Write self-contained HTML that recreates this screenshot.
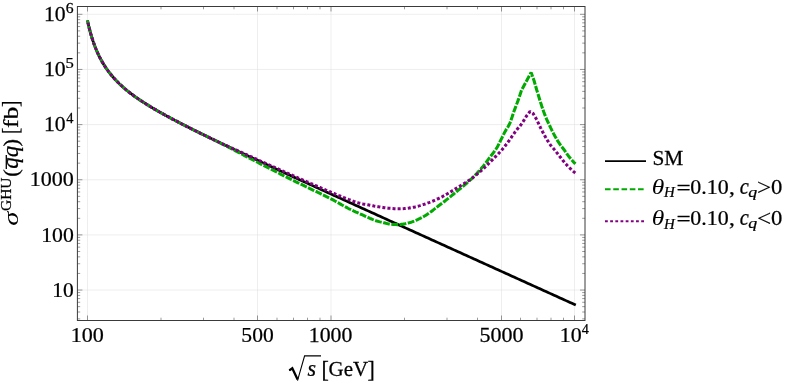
<!DOCTYPE html>
<html><head><meta charset="utf-8"><title>plot</title>
<style>html,body{margin:0;padding:0;background:#fff;}body{width:789px;height:383px;position:relative;overflow:hidden;font-family:"Liberation Serif",serif;}</style>
</head><body>
<svg width="789" height="383" viewBox="0 0 789 383" style="position:absolute;left:0;top:0">
<rect width="789" height="383" fill="#fff"/>
<path d="M77.4,290.05H585.0 M77.4,234.90H585.0 M77.4,179.75H585.0 M77.4,124.60H585.0 M77.4,69.45H585.0 M77.4,14.30H585.0 M87.50,6.5V320.5 M257.50,6.5V320.5 M331.00,6.5V320.5 M501.50,6.5V320.5 M574.50,6.5V320.5" stroke="#dcdcdc" stroke-width="0.5" fill="none"/>
<path d="M87.50,20.51 L88.00,22.83 L88.50,25.03 L89.00,27.13 L89.50,29.14 L90.00,31.06 L90.50,32.90 L91.00,34.66 L91.50,36.35 L92.00,37.98 L92.50,39.55 L93.00,41.06 L93.50,42.52 L94.00,43.93 L94.50,45.29 L95.00,46.61 L95.50,47.89 L96.00,49.12 L96.50,50.32 L97.00,51.48 L97.50,52.61 L98.00,53.71 L98.50,54.78 L99.00,55.82 L99.50,56.83 L100.00,57.81 L100.50,58.77 L101.00,59.71 L101.50,60.62 L102.00,61.51 L102.50,62.38 L103.00,63.23 L103.50,64.06 L104.00,64.88 L104.50,65.67 L105.00,66.45 L105.50,67.21 L106.00,67.96 L106.50,68.69 L107.00,69.41 L107.50,70.11 L108.00,70.80 L108.50,71.47 L109.00,72.14 L109.50,72.79 L110.00,73.43 L110.50,74.06 L111.00,74.68 L111.50,75.29 L112.00,75.89 L112.50,76.47 L113.00,77.05 L113.50,77.62 L114.00,78.19 L114.50,78.74 L115.00,79.28 L115.50,79.82 L116.00,80.35 L116.50,80.87 L117.00,81.39 L117.50,81.90 L118.00,82.40 L118.50,82.89 L119.00,83.38 L119.50,83.86 L120.00,84.34 L122.00,86.19 L124.00,87.96 L126.00,89.66 L128.00,91.29 L130.00,92.86 L132.00,94.38 L134.00,95.85 L136.00,97.28 L138.00,98.68 L140.00,100.03 L142.00,101.36 L144.00,102.66 L146.00,103.93 L148.00,105.17 L150.00,106.40 L152.00,107.60 L154.00,108.78 L156.00,109.95 L158.00,111.10 L160.00,112.24 L162.00,113.36 L164.00,114.47 L166.00,115.57 L168.00,116.66 L170.00,117.74 L172.00,118.81 L174.00,119.87 L176.00,120.92 L178.00,121.96 L180.00,123.00 L182.00,124.03 L184.00,125.05 L186.00,126.07 L188.00,127.08 L190.00,128.09 L192.00,129.09 L194.00,130.09 L196.00,131.08 L198.00,132.07 L200.00,133.05 L202.00,134.04 L204.00,135.01 L206.00,135.99 L208.00,136.96 L210.00,137.93 L212.00,138.89 L214.00,139.85 L216.00,140.81 L218.00,141.77 L220.00,142.73 L222.00,143.68 L224.00,144.63 L226.00,145.58 L228.00,146.53 L230.00,147.47 L232.00,148.42 L234.00,149.36 L236.00,150.30 L238.00,151.24 L240.00,152.18 L242.00,153.12 L244.00,154.05 L246.00,154.99 L248.00,155.92 L250.00,156.85 L252.00,157.78 L254.00,158.71 L256.00,159.64 L258.00,160.57 L260.00,161.49 L262.00,162.42 L264.00,163.35 L266.00,164.27 L268.00,165.19 L270.00,166.12 L272.00,167.04 L274.00,167.96 L276.00,168.88 L278.00,169.80 L280.00,170.72 L282.00,171.64 L284.00,172.56 L286.00,173.48 L288.00,174.40 L290.00,175.32 L292.00,176.23 L294.00,177.15 L296.00,178.07 L298.00,178.98 L300.00,179.90 L302.00,180.81 L304.00,181.73 L306.00,182.64 L308.00,183.55 L310.00,184.47 L312.00,185.38 L314.00,186.30 L316.00,187.21 L318.00,188.12 L320.00,189.03 L322.00,189.94 L324.00,190.86 L326.00,191.77 L328.00,192.68 L330.00,193.59 L332.00,194.50 L334.00,195.41 L336.00,196.32 L338.00,197.23 L340.00,198.14 L342.00,199.05 L344.00,199.96 L346.00,200.87 L348.00,201.78 L350.00,202.69 L352.00,203.60 L354.00,204.51 L356.00,205.42 L358.00,206.33 L360.00,207.24 L362.00,208.15 L364.00,209.06 L366.00,209.97 L368.00,210.87 L370.00,211.78 L372.00,212.69 L374.00,213.60 L376.00,214.51 L378.00,215.41 L380.00,216.32 L382.00,217.23 L384.00,218.14 L386.00,219.05 L388.00,219.95 L390.00,220.86 L392.00,221.77 L394.00,222.68 L396.00,223.58 L398.00,224.49 L400.00,225.40 L402.00,226.31 L404.00,227.21 L406.00,228.12 L408.00,229.03 L410.00,229.93 L412.00,230.84 L414.00,231.75 L416.00,232.66 L418.00,233.56 L420.00,234.47 L422.00,235.38 L424.00,236.28 L426.00,237.19 L428.00,238.10 L430.00,239.00 L432.00,239.91 L434.00,240.82 L436.00,241.72 L438.00,242.63 L440.00,243.54 L442.00,244.44 L444.00,245.35 L446.00,246.26 L448.00,247.16 L450.00,248.07 L452.00,248.98 L454.00,249.88 L456.00,250.79 L458.00,251.70 L460.00,252.60 L462.00,253.51 L464.00,254.41 L466.00,255.32 L468.00,256.23 L470.00,257.13 L472.00,258.04 L474.00,258.95 L476.00,259.85 L478.00,260.76 L480.00,261.66 L482.00,262.57 L484.00,263.48 L486.00,264.38 L488.00,265.29 L490.00,266.20 L492.00,267.10 L494.00,268.01 L496.00,268.91 L498.00,269.82 L500.00,270.73 L502.00,271.63 L504.00,272.54 L506.00,273.45 L508.00,274.35 L510.00,275.26 L512.00,276.16 L514.00,277.07 L516.00,277.98 L518.00,278.88 L520.00,279.79 L522.00,280.69 L524.00,281.60 L526.00,282.51 L528.00,283.41 L530.00,284.32 L532.00,285.22 L534.00,286.13 L536.00,287.04 L538.00,287.94 L540.00,288.85 L542.00,289.75 L544.00,290.66 L546.00,291.57 L548.00,292.47 L550.00,293.38 L552.00,294.29 L554.00,295.19 L556.00,296.10 L558.00,297.00 L560.00,297.91 L562.00,298.82 L564.00,299.72 L566.00,300.63 L568.00,301.53 L570.00,302.44 L572.00,303.35 L574.00,304.25 L575.80,305.07" stroke="#000" stroke-width="2.7" fill="none" stroke-linejoin="round"/>
<path d="M87.50,20.51 L88.50,25.03 L89.50,29.14 L90.50,32.90 L91.50,36.35 L92.50,39.55 L93.50,42.52 L94.50,45.29 L95.50,47.89 L96.50,50.32 L97.50,52.61 L98.50,54.78 L99.50,56.83 L100.50,58.77 L101.50,60.62 L102.50,62.38 L103.50,64.06 L104.50,65.67 L105.50,67.21 L106.50,68.69 L107.50,70.11 L108.50,71.47 L109.50,72.79 L110.50,74.06 L111.50,75.29 L112.50,76.47 L113.50,77.62 L114.50,78.74 L115.50,79.82 L116.50,80.87 L117.50,81.90 L118.50,82.89 L119.50,83.86 L120.50,84.81 L121.50,85.74 L122.50,86.64 L123.50,87.52 L124.50,88.39 L125.50,89.24 L126.50,90.07 L127.50,90.88 L128.50,91.68 L129.50,92.47 L130.50,93.24 L131.50,94.00 L132.50,94.75 L133.50,95.49 L134.50,96.21 L135.50,96.93 L136.50,97.64 L137.50,98.33 L138.50,99.02 L139.50,99.70 L140.50,100.37 L141.50,101.03 L142.50,101.69 L143.50,102.33 L144.50,102.98 L145.50,103.61 L146.50,104.24 L147.50,104.86 L148.50,105.48 L149.50,106.09 L150.50,106.70 L151.50,107.30 L152.50,107.90 L153.50,108.49 L154.50,109.08 L155.50,109.66 L156.50,110.24 L157.50,110.82 L158.50,111.39 L159.50,111.96 L160.50,112.52 L161.50,113.08 L162.50,113.64 L163.50,114.20 L164.50,114.75 L165.50,115.30 L166.50,115.85 L167.50,116.39 L168.50,116.93 L169.50,117.47 L170.50,118.01 L171.50,118.54 L172.50,119.07 L173.50,119.60 L174.50,120.13 L175.00,120.40 L176.00,120.92 L177.00,121.44 L178.00,121.96 L179.00,122.48 L180.00,123.00 L181.00,123.52 L182.00,124.03 L183.00,124.54 L184.00,125.05 L185.00,125.56 L186.00,126.07 L187.00,126.58 L188.00,127.08 L189.00,127.59 L190.00,128.09 L191.00,128.59 L192.00,129.09 L193.00,129.59 L194.00,130.09 L195.00,130.59 L196.00,131.08 L197.00,131.58 L198.00,132.07 L199.00,132.56 L200.00,133.05 L201.00,133.55 L202.00,134.04 L203.00,134.52 L204.00,135.01 L205.00,135.50 L206.00,135.99 L207.00,136.47 L208.00,136.96 L209.00,137.44 L210.00,137.93 L211.00,138.41 L212.00,138.89 L213.00,139.37 L214.00,139.85 L215.00,140.33 L216.00,140.82 L217.00,141.30 L218.00,141.79 L219.00,142.29 L220.00,142.79 L221.00,143.29 L222.00,143.79 L223.00,144.30 L224.00,144.81 L225.00,145.32 L226.00,145.84 L227.00,146.35 L228.00,146.87 L229.00,147.39 L230.00,147.92 L231.00,148.44 L232.00,148.96 L233.00,149.49 L234.00,150.02 L235.00,150.55 L236.00,151.07 L237.00,151.60 L238.00,152.13 L239.00,152.66 L240.00,153.19 L241.00,153.71 L242.00,154.24 L243.00,154.77 L244.00,155.29 L245.00,155.81 L246.00,156.33 L247.00,156.85 L248.00,157.37 L249.00,157.89 L250.00,158.40 L251.00,158.91 L252.00,159.42 L253.00,159.94 L254.00,160.45 L255.00,160.96 L256.00,161.48 L257.00,161.99 L258.00,162.50 L259.00,163.02 L260.00,163.53 L261.00,164.04 L262.00,164.56 L263.00,165.07 L264.00,165.58 L265.00,166.10 L266.00,166.61 L267.00,167.12 L268.00,167.64 L269.00,168.15 L270.00,168.66 L271.00,169.17 L272.00,169.69 L273.00,170.20 L274.00,170.71 L275.00,171.22 L276.00,171.73 L277.00,172.24 L278.00,172.75 L279.00,173.26 L280.00,173.77 L281.00,174.27 L282.00,174.78 L283.00,175.28 L284.00,175.79 L285.00,176.29 L286.00,176.80 L287.00,177.30 L288.00,177.80 L289.00,178.30 L290.00,178.80 L291.00,179.30 L292.00,179.80 L293.00,180.30 L294.00,180.79 L295.00,181.28 L296.00,181.78 L297.00,182.27 L298.00,182.76 L299.00,183.25 L300.00,183.74 L301.00,184.22 L302.00,184.71 L303.00,185.20 L304.00,185.68 L305.00,186.17 L306.00,186.65 L307.00,187.13 L308.00,187.62 L309.00,188.10 L310.00,188.59 L311.00,189.07 L312.00,189.55 L313.00,190.04 L314.00,190.52 L315.00,191.01 L316.00,191.49 L317.00,191.98 L318.00,192.47 L319.00,192.95 L320.00,193.44 L321.00,193.93 L322.00,194.42 L323.00,194.91 L324.00,195.41 L325.00,195.90 L326.00,196.40 L327.00,196.89 L328.00,197.39 L329.00,197.89 L330.00,198.40 L331.00,198.90 L332.00,199.41 L333.00,199.94 L334.00,200.47 L335.00,201.02 L336.00,201.57 L337.00,202.13 L338.00,202.69 L339.00,203.26 L340.00,203.83 L341.00,204.40 L342.00,204.97 L343.00,205.53 L344.00,206.09 L345.00,206.64 L346.00,207.19 L347.00,207.72 L348.00,208.25 L349.00,208.76 L350.00,209.25 L351.00,209.74 L352.00,210.20 L353.00,210.65 L354.00,211.11 L355.00,211.56 L356.00,212.02 L357.00,212.47 L358.00,212.92 L359.00,213.37 L360.00,213.82 L361.00,214.27 L362.00,214.72 L363.00,215.17 L364.00,215.62 L365.00,216.07 L366.00,216.52 L367.00,216.97 L368.00,217.42 L369.00,217.86 L370.00,218.31 L371.00,218.75 L372.00,219.20 L373.00,219.63 L374.00,220.02 L375.00,220.39 L376.00,220.73 L377.00,221.04 L378.00,221.34 L379.00,221.61 L380.00,221.88 L381.00,222.13 L382.00,222.37 L383.00,222.61 L384.00,222.84 L385.00,223.08 L386.00,223.32 L387.00,223.53 L388.00,223.73 L389.00,223.90 L390.00,224.06 L391.00,224.19 L392.00,224.31 L393.00,224.40 L394.00,224.49 L395.00,224.55 L396.00,224.60 L397.00,224.62 L398.00,224.61 L399.00,224.56 L400.00,224.48 L401.00,224.37 L402.00,224.24 L403.00,224.08 L404.00,223.90 L405.00,223.70 L406.00,223.49 L407.00,223.26 L408.00,223.02 L409.00,222.77 L410.00,222.50 L411.00,222.19 L412.00,221.86 L413.00,221.51 L414.00,221.13 L415.00,220.72 L416.00,220.30 L417.00,219.85 L418.00,219.39 L419.00,218.91 L420.00,218.42 L421.00,217.91 L422.00,217.39 L423.00,216.85 L424.00,216.30 L425.00,215.71 L426.00,215.10 L427.00,214.45 L428.00,213.78 L429.00,213.09 L430.00,212.38 L431.00,211.66 L432.00,210.91 L433.00,210.16 L434.00,209.40 L435.00,208.63 L436.00,207.86 L437.00,207.09 L438.00,206.32 L439.00,205.56 L440.00,204.80 L441.00,204.04 L442.00,203.28 L443.00,202.51 L444.00,201.73 L445.00,200.95 L446.00,200.16 L447.00,199.37 L448.00,198.57 L449.00,197.77 L450.00,196.96 L451.00,196.15 L452.00,195.33 L453.00,194.52 L454.00,193.70 L455.00,192.88 L456.00,192.05 L457.00,191.23 L458.00,190.42 L459.00,189.60 L460.00,188.79 L461.00,187.98 L462.00,187.16 L463.00,186.33 L464.00,185.50 L465.00,184.66 L466.00,183.80 L467.00,182.93 L468.00,182.05 L469.00,181.15 L470.00,180.23 L471.00,179.29 L472.00,178.32 L473.00,177.34 L474.00,176.34 L475.00,175.31 L476.00,174.27 L477.00,173.20 L478.00,172.12 L479.00,171.01 L480.00,169.88 L481.00,168.73 L482.00,167.56 L483.00,166.35 L484.00,165.10 L485.00,163.81 L486.00,162.49 L487.00,161.15 L488.00,159.80 L489.00,158.45 L490.00,157.10 L491.00,155.79 L492.00,154.51 L493.00,153.22 L494.00,151.90 L495.00,150.52 L496.00,149.05 L497.00,147.44 L498.00,145.64 L499.00,143.71 L500.00,141.70 L501.00,139.69 L502.00,137.70 L503.00,135.65 L504.00,133.60 L505.00,131.64 L506.00,129.88 L507.00,128.36 L508.00,126.85 L509.00,125.10 L510.00,122.88 L511.00,120.21 L512.00,117.28 L513.00,114.26 L514.00,111.33 L515.00,108.61 L516.00,105.97 L517.00,103.33 L518.00,100.62 L519.00,97.79 L520.00,94.85 L521.00,91.84 L521.50,90.30 L531.10,72.40 L534.00,80.50 L536.60,89.50 L540.70,102.80 L541.70,105.90 L542.70,108.86 L543.70,111.68 L544.70,114.36 L545.70,116.91 L546.70,119.30 L547.70,121.52 L548.70,123.65 L549.70,125.75 L550.70,127.85 L551.70,129.92 L552.70,131.93 L553.70,133.87 L554.70,135.72 L555.70,137.49 L556.70,139.20 L557.70,140.86 L558.70,142.45 L559.70,143.98 L560.70,145.44 L561.70,146.80 L562.70,148.02 L563.70,149.27 L564.70,150.64 L565.70,152.09 L566.70,153.53 L567.70,154.90 L568.70,156.23 L569.70,157.51 L570.70,158.72 L571.70,159.90 L572.70,161.04 L573.70,162.14 L574.70,163.19 L575.40,163.90" stroke="#00aa00" stroke-width="3.05" fill="none" stroke-dasharray="6.8 1.5" stroke-dashoffset="2.56" stroke-linejoin="bevel"/>
<path d="M87.50,20.51 L88.50,25.03 L89.50,29.14 L90.50,32.90 L91.50,36.35 L92.50,39.55 L93.50,42.52 L94.50,45.29 L95.50,47.89 L96.50,50.32 L97.50,52.61 L98.50,54.78 L99.50,56.83 L100.50,58.77 L101.50,60.62 L102.50,62.38 L103.50,64.06 L104.50,65.67 L105.50,67.21 L106.50,68.69 L107.50,70.11 L108.50,71.47 L109.50,72.79 L110.50,74.06 L111.50,75.29 L112.50,76.47 L113.50,77.62 L114.50,78.74 L115.50,79.82 L116.50,80.87 L117.50,81.90 L118.50,82.89 L119.50,83.86 L120.50,84.81 L121.50,85.74 L122.50,86.64 L123.50,87.52 L124.50,88.39 L125.50,89.24 L126.50,90.07 L127.50,90.88 L128.50,91.68 L129.50,92.47 L130.50,93.24 L131.50,94.00 L132.50,94.75 L133.50,95.49 L134.50,96.21 L135.50,96.93 L136.50,97.64 L137.50,98.33 L138.50,99.02 L139.50,99.70 L140.50,100.37 L141.50,101.03 L142.50,101.69 L143.50,102.33 L144.50,102.98 L145.50,103.61 L146.50,104.24 L147.50,104.86 L148.50,105.48 L149.50,106.09 L150.50,106.70 L151.50,107.30 L152.50,107.90 L153.50,108.49 L154.50,109.08 L155.50,109.66 L156.50,110.24 L157.50,110.82 L158.50,111.39 L159.50,111.96 L160.50,112.52 L161.50,113.08 L162.50,113.64 L163.50,114.20 L164.50,114.75 L165.50,115.30 L166.50,115.85 L167.50,116.39 L168.50,116.93 L169.50,117.47 L170.50,118.01 L171.50,118.54 L172.50,119.07 L173.50,119.60 L174.50,120.13 L175.00,120.40 L176.00,120.92 L177.00,121.44 L178.00,121.96 L179.00,122.48 L180.00,123.00 L181.00,123.52 L182.00,124.03 L183.00,124.54 L184.00,125.05 L185.00,125.56 L186.00,126.07 L187.00,126.58 L188.00,127.08 L189.00,127.59 L190.00,128.09 L191.00,128.59 L192.00,129.09 L193.00,129.59 L194.00,130.09 L195.00,130.59 L196.00,131.08 L197.00,131.58 L198.00,132.07 L199.00,132.56 L200.00,133.05 L201.00,133.55 L202.00,134.04 L203.00,134.52 L204.00,135.01 L205.00,135.50 L206.00,135.99 L207.00,136.47 L208.00,136.96 L209.00,137.44 L210.00,137.93 L211.00,138.41 L212.00,138.89 L213.00,139.37 L214.00,139.85 L215.00,140.33 L216.00,140.81 L217.00,141.29 L218.00,141.76 L219.00,142.24 L220.00,142.71 L221.00,143.17 L222.00,143.64 L223.00,144.10 L224.00,144.57 L225.00,145.03 L226.00,145.48 L227.00,145.94 L228.00,146.40 L229.00,146.85 L230.00,147.31 L231.00,147.76 L232.00,148.21 L233.00,148.66 L234.00,149.11 L235.00,149.56 L236.00,150.01 L237.00,150.46 L238.00,150.91 L239.00,151.36 L240.00,151.81 L241.00,152.26 L242.00,152.70 L243.00,153.15 L244.00,153.60 L245.00,154.05 L246.00,154.50 L247.00,154.95 L248.00,155.40 L249.00,155.85 L250.00,156.30 L251.00,156.75 L252.00,157.20 L253.00,157.66 L254.00,158.11 L255.00,158.56 L256.00,159.01 L257.00,159.47 L258.00,159.92 L259.00,160.37 L260.00,160.82 L261.00,161.27 L262.00,161.73 L263.00,162.18 L264.00,162.63 L265.00,163.08 L266.00,163.53 L267.00,163.99 L268.00,164.44 L269.00,164.89 L270.00,165.34 L271.00,165.79 L272.00,166.24 L273.00,166.69 L274.00,167.14 L275.00,167.59 L276.00,168.04 L277.00,168.49 L278.00,168.94 L279.00,169.39 L280.00,169.84 L281.00,170.28 L282.00,170.73 L283.00,171.18 L284.00,171.63 L285.00,172.07 L286.00,172.52 L287.00,172.97 L288.00,173.41 L289.00,173.86 L290.00,174.30 L291.00,174.75 L292.00,175.19 L293.00,175.63 L294.00,176.08 L295.00,176.52 L296.00,176.96 L297.00,177.40 L298.00,177.85 L299.00,178.29 L300.00,178.73 L301.00,179.17 L302.00,179.61 L303.00,180.05 L304.00,180.49 L305.00,180.93 L306.00,181.37 L307.00,181.81 L308.00,182.25 L309.00,182.69 L310.00,183.13 L311.00,183.57 L312.00,184.00 L313.00,184.44 L314.00,184.88 L315.00,185.31 L316.00,185.75 L317.00,186.18 L318.00,186.62 L319.00,187.05 L320.00,187.48 L321.00,187.92 L322.00,188.35 L323.00,188.78 L324.00,189.21 L325.00,189.64 L326.00,190.07 L327.00,190.49 L328.00,190.92 L329.00,191.35 L330.00,191.77 L331.00,192.20 L332.00,192.62 L333.00,193.05 L334.00,193.47 L335.00,193.89 L336.00,194.31 L337.00,194.73 L338.00,195.14 L339.00,195.56 L340.00,195.97 L341.00,196.38 L342.00,196.79 L343.00,197.19 L344.00,197.60 L345.00,198.00 L346.00,198.39 L347.00,198.79 L348.00,199.18 L349.00,199.57 L350.00,199.95 L351.00,200.33 L352.00,200.71 L353.00,201.08 L354.00,201.45 L355.00,201.81 L356.00,202.15 L357.00,202.46 L358.00,202.75 L359.00,203.02 L360.00,203.27 L361.00,203.51 L362.00,203.73 L363.00,203.94 L364.00,204.14 L365.00,204.33 L366.00,204.51 L367.00,204.69 L368.00,204.87 L369.00,205.05 L370.00,205.23 L371.00,205.41 L372.00,205.60 L373.00,205.79 L374.00,205.98 L375.00,206.16 L376.00,206.34 L377.00,206.52 L378.00,206.69 L379.00,206.86 L380.00,207.02 L381.00,207.18 L382.00,207.33 L383.00,207.47 L384.00,207.62 L385.00,207.75 L386.00,207.88 L387.00,208.00 L388.00,208.12 L389.00,208.23 L390.00,208.33 L391.00,208.43 L392.00,208.52 L393.00,208.59 L394.00,208.66 L395.00,208.71 L396.00,208.74 L397.00,208.77 L398.00,208.78 L399.00,208.78 L400.00,208.77 L401.00,208.74 L402.00,208.71 L403.00,208.66 L404.00,208.59 L405.00,208.51 L406.00,208.41 L407.00,208.30 L408.00,208.17 L409.00,208.03 L410.00,207.87 L411.00,207.71 L412.00,207.53 L413.00,207.34 L414.00,207.14 L415.00,206.92 L416.00,206.68 L417.00,206.43 L418.00,206.16 L419.00,205.88 L420.00,205.59 L421.00,205.29 L422.00,204.98 L423.00,204.66 L424.00,204.33 L425.00,204.00 L426.00,203.66 L427.00,203.31 L428.00,202.94 L429.00,202.57 L430.00,202.19 L431.00,201.79 L432.00,201.39 L433.00,200.98 L434.00,200.55 L435.00,200.12 L436.00,199.68 L437.00,199.22 L438.00,198.76 L439.00,198.28 L440.00,197.80 L441.00,197.30 L442.00,196.79 L443.00,196.25 L444.00,195.71 L445.00,195.15 L446.00,194.57 L447.00,193.99 L448.00,193.40 L449.00,192.80 L450.00,192.19 L451.00,191.58 L452.00,190.97 L453.00,190.36 L454.00,189.74 L455.00,189.13 L456.00,188.52 L457.00,187.91 L458.00,187.30 L459.00,186.70 L460.00,186.09 L461.00,185.48 L462.00,184.87 L463.00,184.25 L464.00,183.63 L465.00,182.99 L466.00,182.35 L467.00,181.69 L468.00,181.02 L469.00,180.34 L470.00,179.64 L471.00,178.92 L472.00,178.18 L473.00,177.42 L474.00,176.65 L475.00,175.85 L476.00,175.04 L477.00,174.21 L478.00,173.36 L479.00,172.51 L480.00,171.64 L481.00,170.76 L482.00,169.87 L483.00,168.97 L484.00,168.05 L485.00,167.10 L486.00,166.15 L487.00,165.18 L488.00,164.19 L489.00,163.20 L490.00,162.20 L491.00,161.20 L492.00,160.20 L493.00,159.20 L494.00,158.20 L495.00,157.20 L496.00,156.20 L497.00,155.18 L498.00,154.14 L499.00,153.08 L500.00,152.00 L501.00,150.89 L502.00,149.73 L503.00,148.54 L504.00,147.31 L505.00,146.04 L506.00,144.75 L507.00,143.44 L508.00,142.10 L509.00,140.76 L510.00,139.36 L511.00,137.91 L512.00,136.44 L513.00,134.97 L514.00,133.52 L515.00,132.11 L516.00,130.77 L517.00,129.52 L518.00,128.34 L519.00,127.17 L520.00,125.97 L521.00,124.68 L522.00,123.26 L523.00,121.76 L524.00,120.19 L525.00,118.54 L526.00,116.83 L526.30,116.30 L530.00,111.50 L533.00,113.40 L536.00,118.40 L538.60,123.60 L539.60,125.73 L540.60,127.81 L541.60,129.82 L542.60,131.77 L543.60,133.66 L544.60,135.48 L545.60,137.25 L546.60,138.97 L547.60,140.65 L548.60,142.26 L549.60,143.78 L550.60,145.17 L551.60,146.39 L552.60,147.49 L553.60,148.64 L554.60,149.86 L555.60,151.11 L556.60,152.39 L557.60,153.66 L558.60,154.94 L559.60,156.20 L560.60,157.46 L561.60,158.74 L562.60,160.01 L563.60,161.27 L564.60,162.49 L565.60,163.66 L566.60,164.77 L567.60,165.83 L568.60,166.86 L569.60,167.86 L570.60,168.83 L571.60,169.77 L572.60,170.68 L573.60,171.56 L574.60,172.42 L575.30,173.00" stroke="#800080" stroke-width="3.05" fill="none" stroke-dasharray="3.0 2.1" stroke-dashoffset="2.79" stroke-linejoin="bevel"/>
<path d="M77.4,318.89h2.8 M585.0,318.89h-2.8 M77.4,312.00h2.8 M585.0,312.00h-2.8 M77.4,306.65h2.8 M585.0,306.65h-2.8 M77.4,302.28h2.8 M585.0,302.28h-2.8 M77.4,298.59h2.8 M585.0,298.59h-2.8 M77.4,295.39h2.8 M585.0,295.39h-2.8 M77.4,292.57h2.8 M585.0,292.57h-2.8 M77.4,290.05h5.0 M585.0,290.05h-5.0 M77.4,273.45h2.8 M585.0,273.45h-2.8 M77.4,263.74h2.8 M585.0,263.74h-2.8 M77.4,256.85h2.8 M585.0,256.85h-2.8 M77.4,251.50h2.8 M585.0,251.50h-2.8 M77.4,247.13h2.8 M585.0,247.13h-2.8 M77.4,243.44h2.8 M585.0,243.44h-2.8 M77.4,240.24h2.8 M585.0,240.24h-2.8 M77.4,237.42h2.8 M585.0,237.42h-2.8 M77.4,234.90h5.0 M585.0,234.90h-5.0 M77.4,218.30h2.8 M585.0,218.30h-2.8 M77.4,208.59h2.8 M585.0,208.59h-2.8 M77.4,201.70h2.8 M585.0,201.70h-2.8 M77.4,196.35h2.8 M585.0,196.35h-2.8 M77.4,191.98h2.8 M585.0,191.98h-2.8 M77.4,188.29h2.8 M585.0,188.29h-2.8 M77.4,185.09h2.8 M585.0,185.09h-2.8 M77.4,182.27h2.8 M585.0,182.27h-2.8 M77.4,179.75h5.0 M585.0,179.75h-5.0 M77.4,163.15h2.8 M585.0,163.15h-2.8 M77.4,153.44h2.8 M585.0,153.44h-2.8 M77.4,146.55h2.8 M585.0,146.55h-2.8 M77.4,141.20h2.8 M585.0,141.20h-2.8 M77.4,136.83h2.8 M585.0,136.83h-2.8 M77.4,133.14h2.8 M585.0,133.14h-2.8 M77.4,129.94h2.8 M585.0,129.94h-2.8 M77.4,127.12h2.8 M585.0,127.12h-2.8 M77.4,124.60h5.0 M585.0,124.60h-5.0 M77.4,108.00h2.8 M585.0,108.00h-2.8 M77.4,98.29h2.8 M585.0,98.29h-2.8 M77.4,91.40h2.8 M585.0,91.40h-2.8 M77.4,86.05h2.8 M585.0,86.05h-2.8 M77.4,81.68h2.8 M585.0,81.68h-2.8 M77.4,77.99h2.8 M585.0,77.99h-2.8 M77.4,74.79h2.8 M585.0,74.79h-2.8 M77.4,71.97h2.8 M585.0,71.97h-2.8 M77.4,69.45h5.0 M585.0,69.45h-5.0 M77.4,52.85h2.8 M585.0,52.85h-2.8 M77.4,43.14h2.8 M585.0,43.14h-2.8 M77.4,36.25h2.8 M585.0,36.25h-2.8 M77.4,30.90h2.8 M585.0,30.90h-2.8 M77.4,26.53h2.8 M585.0,26.53h-2.8 M77.4,22.84h2.8 M585.0,22.84h-2.8 M77.4,19.64h2.8 M585.0,19.64h-2.8 M77.4,16.82h2.8 M585.0,16.82h-2.8 M77.4,14.30h5.0 M585.0,14.30h-5.0 M87.50,320.5v-5.0 M87.50,6.5v5.0 M161.00,320.5v-2.8 M161.00,6.5v2.8 M203.50,320.5v-2.8 M203.50,6.5v2.8 M234.00,320.5v-2.8 M234.00,6.5v2.8 M257.50,320.5v-5.0 M257.50,6.5v5.0 M277.00,320.5v-2.8 M277.00,6.5v2.8 M293.50,320.5v-2.8 M293.50,6.5v2.8 M307.50,320.5v-2.8 M307.50,6.5v2.8 M320.00,320.5v-2.8 M320.00,6.5v2.8 M331.00,320.5v-5.0 M331.00,6.5v5.0 M404.50,320.5v-2.8 M404.50,6.5v2.8 M447.00,320.5v-2.8 M447.00,6.5v2.8 M477.50,320.5v-2.8 M477.50,6.5v2.8 M501.50,320.5v-5.0 M501.50,6.5v5.0 M520.50,320.5v-2.8 M520.50,6.5v2.8 M537.00,320.5v-2.8 M537.00,6.5v2.8 M551.00,320.5v-2.8 M551.00,6.5v2.8 M563.50,320.5v-2.8 M563.50,6.5v2.8 M574.50,320.5v-5.0 M574.50,6.5v5.0" stroke="#555" stroke-width="0.6" fill="none"/>
<rect x="77.4" y="6.5" width="507.6" height="314.0" fill="none" stroke="#3a3a3a" stroke-width="1"/>
<path d="M289.3,370.4 L292.3,368.2 L297.6,379.6" stroke="#000" stroke-width="2.3" fill="none" stroke-linejoin="miter"/><path d="M289.0,370.6 L292.6,368.0" stroke="#000" stroke-width="1" fill="none"/><path d="M297.5,380.6 L304.6,355.9 H321" stroke="#000" stroke-width="1.1" fill="none" stroke-linejoin="miter"/>
<path d="M605,161.1H646" stroke="#000" stroke-width="1.9"/>
<path d="M605,189.3H644" stroke="#00aa00" stroke-width="1.9" stroke-dasharray="5.6 2.66"/>
<path d="M605,221.3H644.3" stroke="#800080" stroke-width="1.9" stroke-dasharray="2.8 2.37"/>
</svg>
<svg width="789" height="383" viewBox="0 0 789 383" style="position:absolute;left:0;top:0;will-change:transform">
<g font-family="Liberation Serif, serif" fill="#000" stroke="#000" stroke-width="0.25" style="font-kerning:none"><text transform="translate(29.76,186.40) scale(1.0672,1)" font-size="20.7">1000</text><text transform="translate(41.19,241.60) scale(1.0513,1)" font-size="20.7">100</text><text transform="translate(52.31,296.80) scale(1.0391,1)" font-size="20.7">10</text><text transform="translate(43.89,21.05) scale(1.0502,1)" font-size="20.7">10</text><text transform="translate(65.83,12.95) scale(1.0741,1)" font-size="14.6">6</text><text transform="translate(43.89,76.20) scale(1.0502,1)" font-size="20.7">10</text><text transform="translate(65.53,68.10) scale(1.1392,1)" font-size="14.6">5</text><text transform="translate(43.89,131.35) scale(1.0502,1)" font-size="20.7">10</text><text transform="translate(66.22,123.25) scale(0.9872,1)" font-size="14.6">4</text><text transform="translate(70.76,341.80) scale(1.0688,1)" font-size="20.7">100</text><text transform="translate(241.35,341.80) scale(1.0427,1)" font-size="20.7">500</text><text transform="translate(308.79,341.80) scale(1.0518,1)" font-size="20.7">1000</text><text transform="translate(479.42,341.80) scale(1.0658,1)" font-size="20.7">5000</text><text transform="translate(559.67,341.80) scale(1.0612,1)" font-size="20.7">10</text><text transform="translate(581.72,333.70) scale(0.9725,1)" font-size="14.6">4</text><text transform="translate(307.53,376.40) scale(0.9743,1)" font-size="22.5" font-style="italic">s</text><text transform="translate(321.47,376.60) scale(0.9445,1)" font-size="23.3">[</text><text transform="translate(328.54,376.40) scale(1.0082,1)" font-size="20.8">GeV</text><text transform="translate(367.50,376.60) scale(0.9445,1)" font-size="23.3">]</text><text transform="translate(652.47,164.90) scale(1.0516,1)" font-size="20.3">SM</text><text transform="translate(651.85,193.70) scale(1.1609,1)" font-size="22.0" font-style="italic" stroke-width="0">θ</text><text transform="translate(663.96,197.40) scale(1.0077,1)" font-size="14.8" font-style="italic">H</text><text transform="translate(676.45,194.60) scale(1.1429,1)" font-size="22">=</text><text transform="translate(690.26,193.70) scale(1.0592,1)" font-size="20.7">0.10</text><text transform="translate(728.90,193.70) scale(1.1353,1)" font-size="20.7">,</text><text transform="translate(739.77,193.70) scale(0.9058,1)" font-size="22.5" font-style="italic">c</text><text transform="translate(748.21,197.00) scale(1.1496,1)" font-size="15.5" font-style="italic">q</text><text transform="translate(756.92,195.00) scale(1.0932,1)" font-size="23">&gt;</text><text transform="translate(771.04,193.70) scale(1.0942,1)" font-size="20.7">0</text><text transform="translate(651.85,225.00) scale(1.1609,1)" font-size="22.0" font-style="italic" stroke-width="0">θ</text><text transform="translate(663.96,228.70) scale(1.0077,1)" font-size="14.8" font-style="italic">H</text><text transform="translate(676.45,225.90) scale(1.1429,1)" font-size="22">=</text><text transform="translate(690.26,225.00) scale(1.0592,1)" font-size="20.7">0.10</text><text transform="translate(728.90,225.00) scale(1.1353,1)" font-size="20.7">,</text><text transform="translate(739.77,225.00) scale(0.9058,1)" font-size="22.5" font-style="italic">c</text><text transform="translate(748.21,228.30) scale(1.1496,1)" font-size="15.5" font-style="italic">q</text><text transform="translate(756.95,226.30) scale(1.0932,1)" font-size="23">&lt;</text><text transform="translate(771.04,225.00) scale(1.0942,1)" font-size="20.7">0</text><g transform="translate(18.4,225.0) rotate(-90)"><text transform="translate(-0.85,0.00) scale(1.3063,1)" font-size="21.8" font-style="italic" stroke-width="0">σ</text><text transform="translate(13.96,-7.60) scale(1.1225,1)" font-size="13.8">GHU</text><text transform="translate(48.31,-0.40) scale(1.0407,1)" font-size="21.7">(</text><text transform="translate(56.14,0.00) scale(0.9905,1)" font-size="23" font-style="italic">q</text><path d="M56.1,-12.1H69.9" stroke="#000" stroke-width="1.3"/><text transform="translate(67.75,0.00) scale(0.9807,1)" font-size="23" font-style="italic">q</text><text transform="translate(78.57,-0.40) scale(1.0407,1)" font-size="21.7">)</text><text transform="translate(91.10,-0.40) scale(0.8027,1)" font-size="23.5">[</text><text transform="translate(97.12,0.00) scale(1.2205,1)" font-size="20.8">fb</text><text transform="translate(118.12,-0.40) scale(0.8027,1)" font-size="23.5">]</text></g></g>
</svg>
</body></html>
